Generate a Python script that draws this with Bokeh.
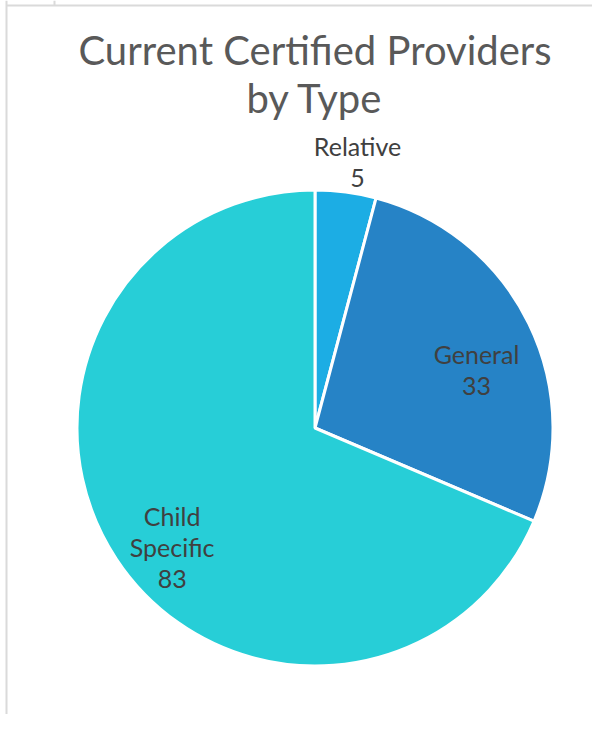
import numpy as np
from bokeh.plotting import figure
from bokeh.models import Range1d, ColumnDataSource
from bokeh.core.properties import value
from bokeh.embed import file_html
from bokeh.resources import INLINE

# ---- data ----
categories = ["Relative", "General", "Child Specific"]
counts = [5, 33, 83]
colors = ["#1CADE4", "#2683C6", "#27CED7"]
label_text = ["Relative\n5", "General\n33", "Child\nSpecific\n83"]

# ---- layout (data units = pixels, y up) ----
W, H = 592, 714
FONT = "Lato"
cx, cy, R = 314.5, H - 427.5, 238.0

p = figure(width=W, height=H, output_backend="svg", toolbar_location=None,
           x_range=Range1d(0, W), y_range=Range1d(0, H),
           min_border=0, outline_line_color=None, background_fill_color="white")
p.axis.visible = False
p.grid.visible = False

vals = np.array(counts, dtype=float)
frac = vals / vals.sum()
cum_end = np.cumsum(frac)
cum_start = cum_end - frac
start = np.pi / 2 - cum_start * 2 * np.pi
end = np.pi / 2 - cum_end * 2 * np.pi
mid = (start + end) / 2

src = ColumnDataSource(dict(cat=categories, val=counts, start=start, end=end, color=colors))
p.wedge(x=cx, y=cy, radius=R, start_angle="start", end_angle="end", direction="clock",
        fill_color="color", line_color="white", line_width=3, source=src)

# data labels: mid-angle polar placement with nudges
r_fac = [1.12, 0.72, 0.78]
nudge_x = [8, 7.5, 12]
nudge_y = [2, -17, -17]
lx = [cx + R * f * np.cos(a) + nx for f, a, nx in zip(r_fac, mid, nudge_x)]
ly = [cy + R * f * np.sin(a) + ny for f, a, ny in zip(r_fac, mid, nudge_y)]
lsrc = ColumnDataSource(dict(x=lx, y=ly, t=label_text))
p.text(x="x", y="y", text="t", source=lsrc, text_align="center", text_baseline="middle",
       text_font=value(FONT), text_font_size="25px", text_color="#404040",
       text_line_height=1.03)

# title
p.text(x=[cx], y=[H - 49], text=["Current Certified Providers"], text_align="center",
       text_baseline="middle", text_font=value(FONT), text_font_size="40px",
       text_color="#595959")
p.text(x=[cx], y=[H - 97], text=["by Type"], text_align="center",
       text_baseline="middle", text_font=value(FONT), text_font_size="40px",
       text_color="#595959")

# border lines of the surrounding sheet
p.segment(x0=[6, 6, 54], y0=[H, H - 5, H], x1=[6, W, 54], y1=[0, H - 5, H - 5],
          line_color="#DADADA", line_width=2)

open("out.html", "w").write(file_html(p, INLINE))
